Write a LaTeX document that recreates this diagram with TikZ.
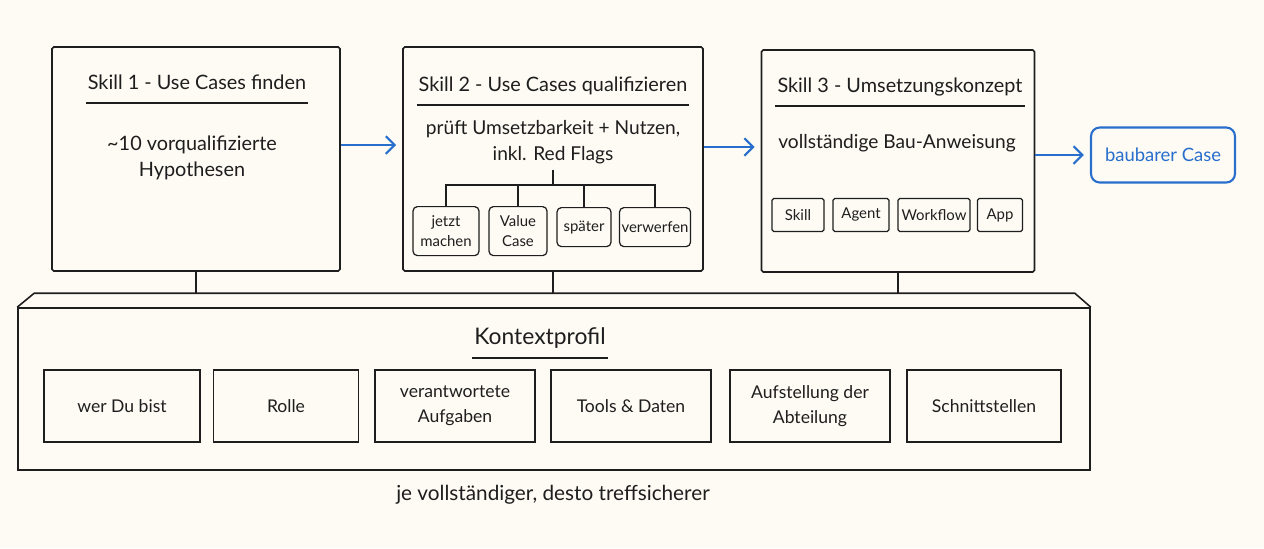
\documentclass[tikz,border=0pt]{standalone}
\usepackage{fontspec}
\setmainfont{Lato}
\usetikzlibrary{arrows.meta,calc,positioning}
\newdimen\pxdim
\pxdim=0.02cm
\definecolor{paper}{RGB}{253,251,244}
\definecolor{ink}{RGB}{30,30,30}
\definecolor{flowblue}{RGB}{40,110,205}
\tikzstyle{skill}=[
  draw=ink,
  line width=.9pt,
  rectangle,
  rounded corners=1pt,
]
\tikzstyle{title}=[
  font={\fontsize{11.3}{14}\selectfont},
  text=ink,
  text height=1.7ex,
  text depth=.55ex,
  inner xsep=1pt,
  inner ysep=5pt,
]
\tikzstyle{body}=[
  font={\fontsize{10.9}{14.5}\selectfont},
  text=ink,
  align=center,
]
\tikzstyle{choice}=[
  draw=ink,
  line width=.7pt,
  font={\fontsize{8.5}{11}\selectfont},
  text=ink,
  align=center,
  inner sep=0pt,
  rounded corners=2.5pt,
  anchor=north,
]
\tikzstyle{tool}=[
  choice,
  rounded corners=1pt,
  anchor=center,
  minimum height=33\pxdim,
]
\tikzstyle{item}=[
  draw=ink,
  line width=.8pt,
  font={\fontsize{10}{14}\selectfont},
  text=ink,
  align=center,
  inner sep=0pt,
  minimum height=72\pxdim,
]
\tikzstyle{target}=[
  draw=flowblue,
  line width=1.2pt,
  font={\fontsize{10.5}{13}\selectfont},
  text=flowblue,
  rounded corners=5pt,
]
\tikzstyle{rule}=[
  draw=ink,
  line width=.8pt,
]
\tikzstyle{flow}=[
  ->,
  draw=flowblue,
  line width=1.2pt,
  shorten >=3.5pt,
]
\tikzset{
  >={Straight Barb[length=5pt,width=10pt]},
}

\begin{document}
\begin{tikzpicture}[x=0.02cm,y=-0.02cm]
  \fill[paper] (0,0) rectangle (1264,548);
  \useasboundingbox (0,0) rectangle (1264,548);

  \node (sk1) [skill, minimum width=288\pxdim, minimum height=224\pxdim] at (196,159) {};
  \node (sk2) [skill, minimum width=300\pxdim, minimum height=224\pxdim] at (553,159) {};
  \node (sk3) [skill, minimum width=273\pxdim, minimum height=222\pxdim] at (898,161) {};

  \node (t1) [title] at (197,84) {Skill 1 - Use Cases finden};
  \node (t2) [title] at (553,86) {Skill 2 - Use Cases qualifizieren};
  \node (t3) [title] at (900,87) {Skill 3 - Umsetzungskonzept};

  \node (b1) [body, font={\fontsize{11.3}{14.5}\selectfont}] at (192,158) {\textasciitilde10 vorqualifizierte\\Hypothesen};
  \node (b2) [body] at (553,142) {prüft Umsetzbarkeit + Nutzen,\\inkl. Red Flags};
  \node (b3) [body] at (897,143) {vollständige Bau-Anweisung};

  \coordinate (fork) at (553,185);
  \node (c1) [choice, minimum width=66\pxdim, minimum height=49\pxdim] at (446,206) {jetzt\\machen};
  \node (c2) [choice, minimum width=58\pxdim, minimum height=49\pxdim] at (518,206) {Value\\Case};
  \node (c3) [choice, minimum width=54\pxdim, minimum height=39\pxdim] at (584,207) {später};
  \node (c4) [choice, minimum width=71\pxdim, minimum height=39\pxdim] at (655,207) {verwerfen};
  \draw [rule] (b2.south) -- (fork);
  \foreach \c in {c1,c2,c3,c4}
    \draw [rule] (fork) -| (\c.north);

  \node (s1) [tool, minimum width=52\pxdim] at (798,215) {Skill};
  \node (s2) [tool, minimum width=56\pxdim] at (861,215) {Agent};
  \node (s3) [tool, minimum width=72\pxdim] at (934,215) {Workflow};
  \node (s4) [tool, minimum width=45\pxdim] at (1000,215) {App};

  \node (case) [target, minimum width=144\pxdim, minimum height=55\pxdim] at (1163,155) {baubarer Case};

  \draw [flow] ([yshift=.28cm]sk1.east) coordinate (a1) -- (sk2.west |- a1);
  \draw [flow] ([yshift=.24cm]sk2.east) coordinate (a2) -- (sk3.west |- a2);
  \draw [flow] (sk3.east |- case.west) -- (case.west);

  \node (kontext) [skill, rounded corners=0pt, minimum width=1072\pxdim, minimum height=162\pxdim] at (554,389) {};
  \draw [rule, line width=.9pt] (kontext.north west) -- ++(17,-14) coordinate (backleft)
    -- ($(kontext.north east)+(-16,-14)$) coordinate (backright) -- (kontext.north east);
  \draw [rule] (sk1.south) -- (sk1.south |- backleft);
  \draw [rule] (sk2.south) -- (sk2.south |- backleft);
  \draw [rule] (sk3.south) -- (sk3.south |- backleft);

  \node (t4) [title, font={\fontsize{13}{15}\selectfont}] at (540,339) {Kontextprofil};
  \foreach \t in {t1,t2,t3,t4}
    \draw [rule] (\t.south west) -- (\t.south east);

  \node (k1) [item, minimum width=156\pxdim] at (122,406) {wer Du bist};
  \node (k2) [item, minimum width=145\pxdim] at (286,406) {Rolle};
  \node (k3) [item, minimum width=160\pxdim] at (455,406) {verantwortete\\Aufgaben};
  \node (k4) [item, minimum width=160\pxdim] at (631,406) {Tools \& Daten};
  \node (k5) [item, minimum width=160\pxdim] at (810,406) {Aufstellung der\\Abteilung};
  \node (k6) [item, minimum width=154\pxdim] at (984,406) {Schnittstellen};

  \node (hint) [body, font={\fontsize{11.8}{14.5}\selectfont}] at (553,495) {je vollständiger, desto treffsicherer};
\end{tikzpicture}
\end{document}
